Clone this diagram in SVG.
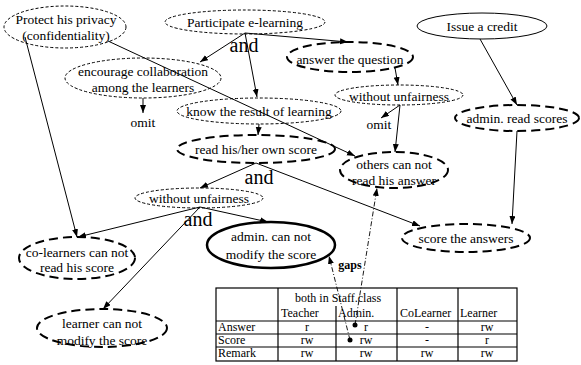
<svg xmlns="http://www.w3.org/2000/svg" width="581" height="365" viewBox="0 0 581 365" font-family="'Liberation Serif', 'DejaVu Serif', 'Times New Roman', serif">
<defs>
<marker id="ah" markerUnits="userSpaceOnUse" markerWidth="9" markerHeight="7" refX="8" refY="3" orient="auto"><path d="M0,0 L8,3 L0,6 z" fill="#000"/></marker>
<style>
text{font-family:'Liberation Serif','DejaVu Serif','Times New Roman',serif;fill:#000}
.t{font-size:13.5px;text-anchor:middle}
.and{font-size:20px;text-anchor:middle}
.tb{font-size:12px}
.tc{font-size:12px;text-anchor:middle}
.thin{fill:#fff;stroke:#000;stroke-width:1;stroke-dasharray:3,2}
.thick{fill:#fff;stroke:#000;stroke-width:2;stroke-dasharray:9,5}
.solid{fill:#fff;stroke:#000;stroke-width:1}
.bold{fill:#fff;stroke:#000;stroke-width:2.5}
.c{stroke:#000;stroke-width:1;fill:none;marker-end:url(#ah)}
.dd{stroke:#000;stroke-width:0.9;fill:none;stroke-dasharray:5,2,1,2;marker-end:url(#ah)}
.tl{stroke:#000;stroke-width:1.2;fill:none}
</style>
</defs>
<rect width="581" height="365" fill="#fff"/>
<g id="n-protect"><ellipse class="thin" cx="65" cy="27" rx="61" ry="21"/><text class="t" x="66" y="23.5">Protect his privacy</text><text class="t" x="66" y="39.5">(confidentiality)</text></g>
<g id="n-participate"><ellipse class="thin" cx="245" cy="22" rx="80" ry="12"/><text class="t" x="245" y="26.5">Participate e-learning</text></g>
<g id="n-issue"><ellipse class="solid" cx="482" cy="26" rx="65" ry="13"/><text class="t" x="482" y="30.5">Issue a credit</text></g>
<g id="n-encourage"><ellipse class="thin" cx="143" cy="78" rx="78" ry="20"/><text class="t" x="143" y="75.5">encourage collaboration</text><text class="t" x="143" y="91.5">among the learners</text></g>
<g id="n-answer"><ellipse class="thick" cx="350" cy="57" rx="63" ry="15"/><text class="t" x="350" y="64">answer the question</text></g>
<g id="n-omit1"><text class="t" x="143" y="126.5">omit</text></g>
<g id="n-without-r"><ellipse class="thin" cx="399" cy="95" rx="64" ry="10"/><text class="t" x="399" y="100.5">without unfairness</text></g>
<g id="n-omit2"><text class="t" x="379" y="129">omit</text></g>
<g id="n-know"><ellipse class="thin" cx="259" cy="111" rx="82" ry="13"/><text class="t" x="259" y="115.5">know the result of learning</text></g>
<g id="n-adminread"><ellipse class="thick" cx="517" cy="118" rx="62" ry="13"/><text class="t" x="517" y="122.5">admin. read scores</text></g>
<g id="n-readown"><ellipse class="thick" cx="256" cy="149" rx="79" ry="14"/><text class="t" x="256" y="154">read his/her own score</text></g>
<g id="n-others"><ellipse class="thick" cx="394" cy="170" rx="54" ry="18"/><text class="t" x="394" y="168.5">others can not</text><text class="t" x="394" y="184.5">read his answer</text></g>
<g id="n-without-l"><ellipse class="thin" cx="199" cy="198" rx="64" ry="10"/><text class="t" x="199" y="202.5">without unfairness</text></g>
<g id="n-scoreans"><ellipse class="thick" cx="466" cy="238" rx="64" ry="14"/><text class="t" x="466" y="242.5">score the answers</text></g>
<g id="n-colearners"><ellipse class="thick" cx="77" cy="258" rx="58" ry="21"/><text class="t" x="77" y="256.5">co-learners can not</text><text class="t" x="77" y="272">read his score</text></g>
<g id="n-admincannot"><ellipse class="bold" cx="271" cy="245" rx="64" ry="23"/><text class="t" x="271" y="240.5">admin. can not</text><text class="t" x="271" y="258.5">modify the score</text></g>
<g id="n-learner"><ellipse class="thick" cx="102" cy="328" rx="65" ry="19"/><text class="t" x="102" y="327.5">learner can not</text><text class="t" x="102" y="344.5">modify the score</text></g>
<g id="labels">
<text class="and" x="244" y="52">and</text>
<text class="and" x="259" y="184">and</text>
<text class="and" x="198" y="226">and</text>
<text x="350" y="269" style="font-size:12px;font-weight:bold;text-anchor:middle">gaps</text>
</g>
<g id="n-table">
<rect class="tl" x="216" y="288" width="301" height="73"/>
<line class="tl" x1="278" y1="288" x2="278" y2="361"/>
<line class="tl" x1="336" y1="306" x2="336" y2="361"/>
<line class="tl" x1="397" y1="288" x2="397" y2="361"/>
<line class="tl" x1="458" y1="288" x2="458" y2="361"/>
<line class="tl" x1="216" y1="321" x2="517" y2="321"/>
<line class="tl" x1="216" y1="334" x2="517" y2="334"/>
<line class="tl" x1="216" y1="347" x2="517" y2="347"/>
<text class="tb" x="295" y="302">both in Staff.class</text>
<text class="tb" x="281" y="317">Teacher</text>
<text class="tb" x="338" y="317">Admin.</text>
<text class="tb" x="400" y="317">CoLearner</text>
<text class="tb" x="460" y="317">Learner</text>
<text class="tb" x="218" y="331">Answer</text>
<text class="tb" x="218" y="344">Score</text>
<text class="tb" x="218" y="357">Remark</text>
<text class="tc" x="307" y="331">r</text><text class="tc" x="366" y="331">r</text><text class="tc" x="427" y="331">-</text><text class="tc" x="487" y="331">rw</text>
<text class="tc" x="307" y="344">rw</text><text class="tc" x="366" y="344">rw</text><text class="tc" x="427" y="344">-</text><text class="tc" x="487" y="344">r</text>
<text class="tc" x="307" y="357">rw</text><text class="tc" x="366" y="357">rw</text><text class="tc" x="427" y="357">rw</text><text class="tc" x="487" y="357">rw</text>
<circle cx="355" cy="325" r="2.5" fill="#000"/>
<circle cx="350" cy="340" r="2.5" fill="#000"/>
</g>
<g id="connectors">
<line class="c" x1="245" y1="33" x2="200" y2="62"/>
<line class="c" x1="245" y1="33" x2="257" y2="97"/>
<line class="c" x1="245" y1="33" x2="348" y2="42"/>
<line class="c" x1="143" y1="98" x2="143" y2="113"/>
<line class="c" x1="259" y1="124" x2="258" y2="135"/>
<line class="c" x1="395" y1="68" x2="398" y2="85"/>
<line class="c" x1="400" y1="105" x2="381" y2="118"/>
<line class="c" x1="400" y1="105" x2="395" y2="152"/>
<line class="c" x1="480" y1="39" x2="517" y2="105"/>
<line class="c" x1="517" y1="131" x2="512" y2="224"/>
<line class="c" x1="108" y1="41" x2="355" y2="156"/>
<line class="c" x1="25" y1="37" x2="77" y2="237"/>
<line class="c" x1="256" y1="163" x2="200" y2="188"/>
<line class="c" x1="256" y1="163" x2="420" y2="226"/>
<line class="c" x1="200" y1="207" x2="78" y2="237"/>
<line class="c" x1="200" y1="207" x2="268" y2="222"/>
<line class="c" x1="200" y1="207" x2="103" y2="309"/>
<line class="dd" x1="350" y1="340" x2="329" y2="256"/>
<line class="dd" x1="355" y1="325" x2="377" y2="188"/>
</g>
</svg>
